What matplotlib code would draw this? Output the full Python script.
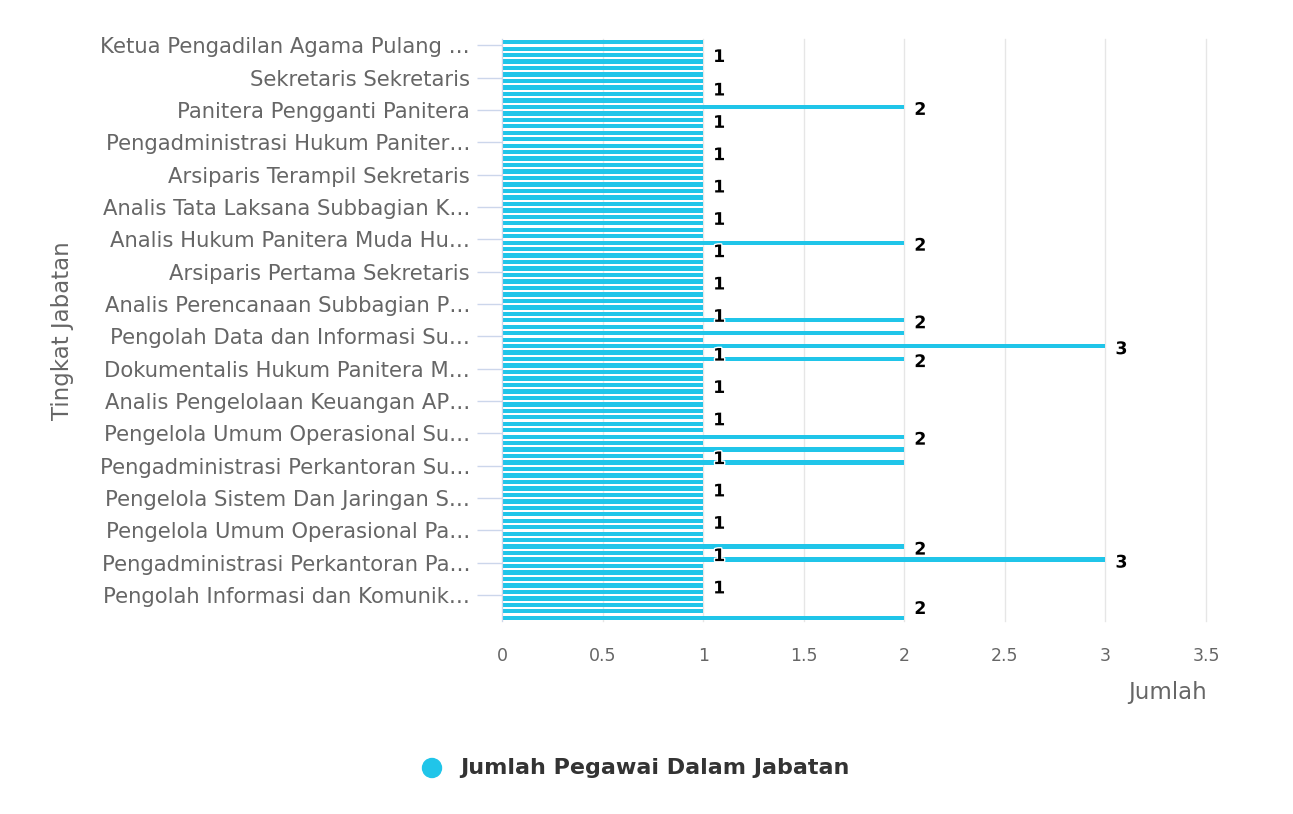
import numpy as np
import matplotlib
matplotlib.use("Agg")
import matplotlib.pyplot as plt
import matplotlib.patheffects as pe
from matplotlib.patches import Ellipse

plt.rcParams["font.family"] = ["DejaVu Sans"]

# --- data ---
# every 5th category is named on the axis (Highcharts label step)
jabatan_labels = [
    "Ketua Pengadilan Agama Pulang …",
    "Sekretaris Sekretaris",
    "Panitera Pengganti Panitera",
    "Pengadministrasi Hukum Paniter…",
    "Arsiparis Terampil Sekretaris",
    "Analis Tata Laksana Subbagian K…",
    "Analis Hukum Panitera Muda Hu…",
    "Arsiparis Pertama Sekretaris",
    "Analis Perencanaan Subbagian P…",
    "Pengolah Data dan Informasi Su…",
    "Dokumentalis Hukum Panitera M…",
    "Analis Pengelolaan Keuangan AP…",
    "Pengelola Umum Operasional Su…",
    "Pengadministrasi Perkantoran Su…",
    "Pengelola Sistem Dan Jaringan S…",
    "Pengelola Umum Operasional Pa…",
    "Pengadministrasi Perkantoran Pa…",
    "Pengolah Informasi dan Komunik…",
]
label_step = 5

jumlah = [
    1, 1, 1, 1, 1, 1, 1, 1, 1, 1,
    2, 1, 1, 1, 1, 1, 1, 1, 1, 1,
    1, 1, 1, 1, 1, 1, 1, 1, 1, 1,
    1, 2, 1, 1, 1, 1, 1, 1, 1, 1,
    1, 1, 1, 2, 1, 2, 1, 3, 1, 2,
    1, 1, 1, 1, 1, 1, 1, 1, 1, 1,
    1, 2, 1, 2, 1, 2, 1, 1, 1, 1,
    1, 1, 1, 1, 1, 1, 1, 1, 2, 1,
    3, 1, 1, 1, 1, 1, 1, 1, 1, 2,
]
x_ticks = [0, 0.5, 1, 1.5, 2, 2.5, 3, 3.5]

bar_color = "#20c5e9"
W, H = 1293, 814

fig = plt.figure(figsize=(W / 100, H / 100), dpi=100)
ax = fig.add_axes([502 / W, (H - 621) / H, 704 / W, 582 / H])

n = len(jumlah)
pos = np.arange(n)
ax.barh(pos, jumlah, height=0.68, color=bar_color, zorder=3)

ax.set_ylim(n - 0.5, -0.5)
ax.set_xlim(0, 3.5)

# grid
ax.set_xticks(x_ticks)
ax.set_xticklabels([f"{t:g}" for t in x_ticks])
ax.grid(axis="x", color="#e6e6e6", linewidth=1, zorder=0)
for gl in ax.get_xgridlines():
    gl.set_clip_on(False)
ax.tick_params(axis="x", length=0, pad=19, labelsize=12.5, labelcolor="#666666")

# category axis
tick_pos = [k * label_step + 0.5 for k in range(len(jabatan_labels))]
ax.set_yticks(tick_pos)
ax.set_yticklabels(jabatan_labels)
ax.tick_params(axis="y", length=18, width=1, color="#ccd6eb", pad=5,
               labelsize=15.2, labelcolor="#666666")

for s in ["top", "right", "bottom"]:
    ax.spines[s].set_visible(False)
ax.spines["left"].set_color("#ccd6eb")
ax.spines["left"].set_zorder(4)

fig.text(62 / W, 1 - 331 / H, "Tingkat Jabatan", rotation=90, ha="center",
         va="center", fontsize=16.5, color="#666666")
fig.text(1207 / W, 1 - 693 / H, "Jumlah", ha="right", va="center",
         fontsize=16.5, color="#666666")

# data labels, hiding overlaps like the original (longer bars first)
px_per_cat = 582 / n
half = 15 / px_per_cat
centers = np.clip(pos.astype(float), -0.5 + half, n - 0.5 - half)
order = sorted(range(n), key=lambda i: -jumlah[i])
shown = []
for i in order:
    clash = any(jumlah[j] == jumlah[i] and abs(centers[i] - centers[j]) < 2 * half
                for j in shown)
    if not clash:
        shown.append(i)

for i in shown:
    ax.annotate(str(jumlah[i]), (jumlah[i], centers[i]),
                xytext=(10, -3), textcoords="offset pixels",
                ha="left", va="center", fontsize=12.5, fontweight="bold",
                color="black", zorder=5, annotation_clip=False,
                path_effects=[pe.withStroke(linewidth=2, foreground="white")])

# legend
fig.text(460 / W, 1 - 768 / H, "Jumlah Pegawai Dalam Jabatan", ha="left",
         va="center", fontsize=16, fontweight="bold", color="#333333")
fig.add_artist(Ellipse((432 / W, 1 - 768 / H), 19 / W, 19 / H,
                       transform=fig.transFigure, color=bar_color))

fig.savefig("out.png", dpi=100)
